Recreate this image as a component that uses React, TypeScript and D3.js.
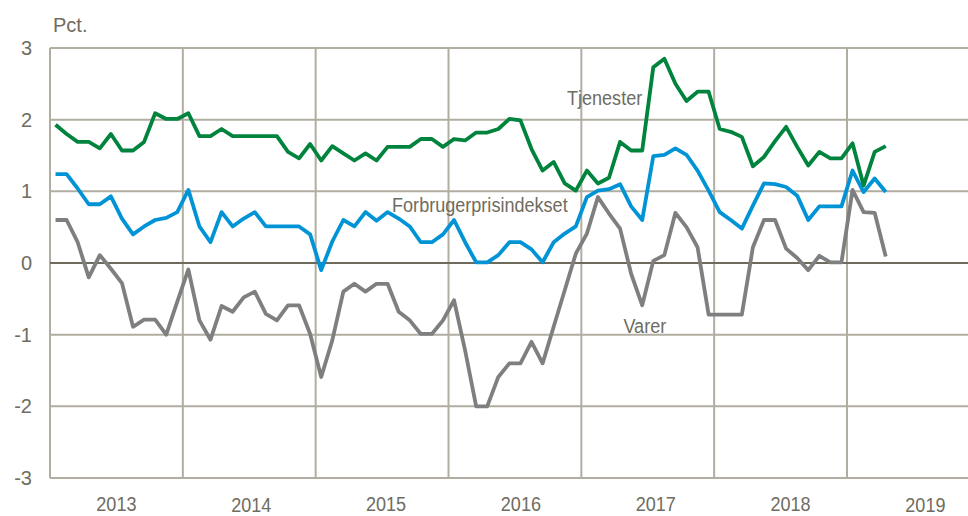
import React, { useRef, useEffect } from 'react';
import * as d3 from 'd3';

// monthly values, Jan 2013 - Apr 2019
const tjenester = [
  1.93, 1.80, 1.69, 1.69, 1.60, 1.80, 1.57, 1.57, 1.69, 2.09, 2.01, 2.01,
  2.09, 1.77, 1.77, 1.87, 1.77, 1.77, 1.77, 1.77, 1.77, 1.55, 1.46, 1.66,
  1.43, 1.63, 1.53, 1.43, 1.53, 1.43, 1.62, 1.62, 1.62, 1.73, 1.73, 1.62,
  1.73, 1.71, 1.82, 1.82, 1.87, 2.01, 1.99, 1.59, 1.29, 1.41, 1.11, 1.01,
  1.29, 1.11, 1.19, 1.69, 1.57, 1.57, 2.73, 2.85, 2.50, 2.26, 2.39, 2.39,
  1.87, 1.83, 1.76, 1.35, 1.48, 1.70, 1.90, 1.62, 1.36, 1.55, 1.46, 1.46,
  1.67, 1.08, 1.55, 1.63,
];
const forbruger = [
  1.24, 1.24, 1.04, 0.82, 0.82, 0.93, 0.62, 0.40, 0.51, 0.60, 0.63, 0.71,
  1.02, 0.51, 0.29, 0.71, 0.51, 0.62, 0.71, 0.51, 0.51, 0.51, 0.51, 0.40,
  -0.10, 0.30, 0.60, 0.51, 0.71, 0.59, 0.71, 0.62, 0.51, 0.29, 0.29, 0.40,
  0.60, 0.29, 0.01, 0.01, 0.11, 0.29, 0.29, 0.19, 0.01, 0.29, 0.41, 0.51,
  0.92, 1.01, 1.03, 1.10, 0.79, 0.60, 1.49, 1.51, 1.60, 1.51, 1.29, 1.01,
  0.71, 0.60, 0.48, 0.80, 1.11, 1.10, 1.06, 0.94, 0.60, 0.79, 0.79, 0.79,
  1.29, 0.99, 1.18, 0.99,
];
const varer = [
  0.60, 0.60, 0.29, -0.20, 0.11, -0.08, -0.28, -0.89, -0.79, -0.79, -1.00, -0.54,
  -0.09, -0.80, -1.07, -0.60, -0.68, -0.48, -0.40, -0.71, -0.80, -0.59, -0.59, -0.99,
  -1.59, -1.08, -0.40, -0.29, -0.40, -0.29, -0.29, -0.68, -0.80, -0.99, -0.99, -0.80,
  -0.52, -1.22, -2.00, -2.00, -1.59, -1.40, -1.40, -1.10, -1.40, -0.89, -0.38, 0.13,
  0.41, 0.92, 0.69, 0.48, -0.15, -0.59, 0.03, 0.11, 0.70, 0.50, 0.22, -0.72,
  -0.72, -0.72, -0.72, 0.22, 0.60, 0.60, 0.20, 0.07, -0.10, 0.10, 0.01, 0.01,
  1.02, 0.71, 0.70, 0.09,
];
const years = ['2013', '2014', '2015', '2016', '2017', '2018', '2019'];
const yTicks = [-3, -2, -1, 0, 1, 2, 3];

const series = [
  { name: 'Varer', values: varer, color: '#7f7f7f', label: [51.8, -0.97] },
  { name: 'Forbrugerprisindekset', values: forbruger, color: '#0093d6', label: [30.9, 0.71] },
  { name: 'Tjenester', values: tjenester, color: '#00843d', label: [46.7, 2.2] },
];

const TEXT = '#6f6c61';
const GRID = '#b1aea1';

const App: React.FC = () => {
  const svgRef = useRef<SVGSVGElement>(null);

  useEffect(() => {
    if (!svgRef.current) return;
    const svg = d3.select(svgRef.current);
    svg.selectAll('*').remove();

    const left = 50;
    const monthW = (847 - 50) / 72;
    const x = d3.scaleLinear().domain([0, 84]).range([left, left + 84 * monthW]);
    const y = d3.scaleLinear().domain([-3, 3]).range([478, 48]);
    const font = '"Liberation Sans", Arial, sans-serif';

    // horizontal grid
    svg.append('g')
      .selectAll('line')
      .data(yTicks)
      .enter().append('line')
      .attr('x1', left).attr('x2', x(84))
      .attr('y1', d => y(d)).attr('y2', d => y(d))
      .attr('stroke', GRID)
      .attr('stroke-width', 2);

    // year separators
    svg.append('g')
      .selectAll('line')
      .data(d3.range(0, 7))
      .enter().append('line')
      .attr('x1', d => x(d * 12)).attr('x2', d => x(d * 12))
      .attr('y1', y(3)).attr('y2', y(-3))
      .attr('stroke', GRID)
      .attr('stroke-width', 2);

    // zero line on top of the grid
    svg.append('line')
      .attr('x1', left).attr('x2', x(84))
      .attr('y1', y(0)).attr('y2', y(0))
      .attr('stroke', '#6e6a5c')
      .attr('stroke-width', 2);

    const line = d3.line<number>()
      .x((_, i) => x(i + 0.5))
      .y(d => y(d));

    series.forEach(s => {
      svg.append('path')
        .datum(s.values)
        .attr('d', line)
        .attr('fill', 'none')
        .attr('stroke', s.color)
        .attr('stroke-width', 3.8)
        .attr('stroke-linejoin', 'round');
    });

    // y tick labels
    svg.append('g')
      .selectAll('text')
      .data(yTicks)
      .enter().append('text')
      .attr('x', 32)
      .attr('y', d => y(d) + 7)
      .attr('text-anchor', 'end')
      .style('font-family', font)
      .style('font-size', '20px')
      .style('fill', TEXT)
      .text(d => d);

    svg.append('text')
      .attr('x', 53)
      .attr('y', 31.7)
      .style('font-family', font)
      .style('font-size', '20px')
      .style('fill', TEXT)
      .text('Pct.');

    // year labels
    const yearDy = [0, 1, 0, 0, 0, 0, 1];
    svg.append('g')
      .selectAll('text')
      .data(years)
      .enter().append('text')
      .attr('transform', (d, i) => `translate(${x(i * 12 + 6) + i * 2},${510.5 + yearDy[i]}) scale(0.86,1)`)
      .attr('text-anchor', 'middle')
      .style('font-family', font)
      .style('font-size', '21px')
      .style('fill', TEXT)
      .text(d => d);

    // series labels
    svg.append('g')
      .selectAll('text')
      .data(series)
      .enter().append('text')
      .attr('transform', d => `translate(${x(d.label[0])},${y(d.label[1])}) scale(0.86,1)`)
      .style('font-family', font)
      .style('font-size', '21px')
      .style('fill', TEXT)
      .text(d => d.name);
  }, []);

  return (
    <svg
      ref={svgRef}
      width={968}
      height={516}
      style={{ position: 'absolute', left: 0, top: 0, display: 'block', background: '#fff' }}
    />
  );
};

export default App;
